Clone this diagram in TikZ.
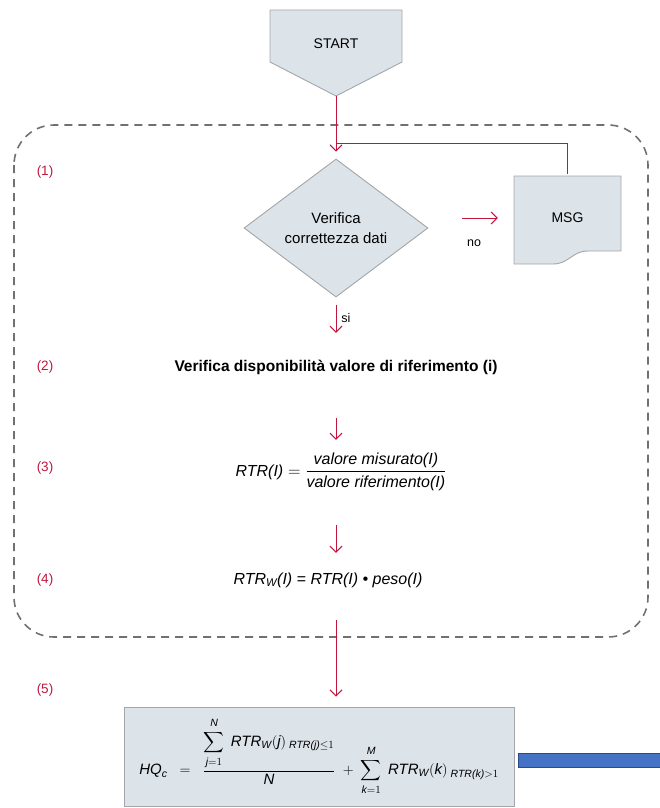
\documentclass[tikz,border=0pt]{standalone}
\usepackage{amsmath}
\usepackage{fontspec}
\setmainfont{Liberation Sans}
\usetikzlibrary{positioning,arrows.meta,shapes.geometric}
\definecolor{flowred}{HTML}{C0163E}
\definecolor{shapefill}{HTML}{DCE3E9}
\definecolor{shapeline}{HTML}{A3A7AB}
\definecolor{framegray}{HTML}{707070}
\definecolor{barblue}{HTML}{4472C4}
\definecolor{barline}{HTML}{2C4A86}
\tikzset{
  shp/.style    ={draw=shapeline, fill=shapefill, line width=0.9pt},
  dia/.style    ={shp, diamond, aspect=1.33, minimum width=184pt, minimum height=138pt,
                  inner sep=0pt, align=center, font=\fontsize{15}{20}\selectfont},
  txt/.style    ={inner sep=0pt, font=\fontsize{14}{16}\selectfont},
  stepno/.style ={inner sep=0pt, text=flowred, font=\fontsize{13.5}{16}\selectfont},
  steptxt/.style={inner sep=0pt, text height=11.5pt, text depth=3.5pt,
                  font=\fontsize{15.5}{18}\selectfont\bfseries},
  frm/.style    ={inner sep=0pt, minimum height=44pt, font=\fontsize{16}{19}\selectfont},
  hqbox/.style  ={shp, minimum width=390pt, minimum height=99pt, inner sep=0pt,
                  font=\fontsize{15}{18}\selectfont},
  barbox/.style ={draw=barline, fill=barblue, line width=1pt, minimum width=145pt,
                  minimum height=14pt, inner sep=0pt},
  arr/.style    ={-{Straight Barb[length=6pt,width=12pt]}, draw=flowred, line width=1pt},
  lnk/.style    ={draw=flowred, line width=1pt},
  frame/.style  ={draw=framegray, line width=1.6pt, dash pattern=on 8pt off 6pt,
                  rounded corners=40pt},
  smalltxt/.style={inner sep=0pt, font=\fontsize{12.5}{14}\selectfont},
}
\newcommand{\itx}[1]{\text{\itshape #1}}
\newcommand{\uplim}[1]{\itx{#1}\rule[-3pt]{0pt}{3pt}}
\newcommand{\lowlim}[1]{\rule{0pt}{9pt}\itx{#1}=1}

\begin{document}
\begin{tikzpicture}[x=1pt, y=-1pt]
  \useasboundingbox (0,0) rectangle (659,808);
  % start
  \draw[shp] (270,10) -- (402,10) -- (402,62) -- (336,96) -- (270,62) -- cycle;
  \coordinate (starttip) at (336,96);
  \node[txt] (start) at (336,44) {START};
  % steps 1-4
  \draw[frame] (14,125) rectangle (648,637);
  \foreach \n/\y in {1/172,2/367,3/468,4/580,5/690}
    \node[stepno] (n\n) at (45,\y) {(\n)};
  \node[dia] (check) at (336,228) {Verifica\\correttezza dati};
  \draw[shp] (514,176) -- (621,176) -- (621,251) -- (588,251)
    .. controls (572,251) and (569,264) .. (553,264) -- (514,264) -- cycle;
  \node[txt, minimum width=107pt, minimum height=88pt] (msg) at (567.5,218) {MSG};
  \coordinate (fork) at (336,143);
  \draw[arr, shorten >=7pt] (starttip) -- (check.north);
  \draw[lnk] (fork) -| (msg.north);
  \draw[arr, shorten <=34pt, shorten >=16pt] (check.east |- msg.west) -- (msg.west);
  \node[smalltxt] (nolbl) at (474,243) {no};
  \node[steptxt] (avail) at (336,367) {Verifica disponibilità valore di riferimento (i)};
  \draw[arr, shorten <=8pt, shorten >=26.5pt] (check.south) -- (avail.north);
  \node[smalltxt] (silbl) at (346,318) {si};
  \node[frm] (rtr) at (341,472)
    {$\itx{RTR(I)} = \dfrac{\itx{valore misurato(I)}}{\itx{valore riferimento(I)}}$};
  \draw[arr, shorten <=43.5pt, shorten >=10pt] (avail.south) -- (check.south |- rtr.north);
  \node[frm] (rtrw) at (328,580) {\itshape RTR\textsubscript{W}(I) = RTR(I) \textbullet{} peso(I)};
  \draw[arr, shorten <=31pt, shorten >=5pt] (check.south |- rtr.south) -- (check.south |- rtrw.north);
  % step 5
  \node[hqbox] (hq) at (319,756.5)
    {$\itx{HQ}_{\itx{c}} \;\;=\;\; \dfrac{\displaystyle\sum_{\lowlim{j}}^{\uplim{N}}\;
      \itx{RTR}_{\itx{W}}(\itx{j})_{\;\itx{RTR(j)}\le 1}}{\itx{N}}
      \;+\; \displaystyle\sum_{\lowlim{k}}^{\uplim{M}}\; \itx{RTR}_{\itx{W}}(\itx{k})_{\;\itx{RTR(k)}>1}$};
  \draw[arr, shorten <=18pt, shorten >=10pt] (check.south |- rtrw.south) -- (check.south |- hq.north);
  \node[barbox, right=4pt of hq, yshift=-3.5pt] (bar) {};
\end{tikzpicture}
\end{document}
